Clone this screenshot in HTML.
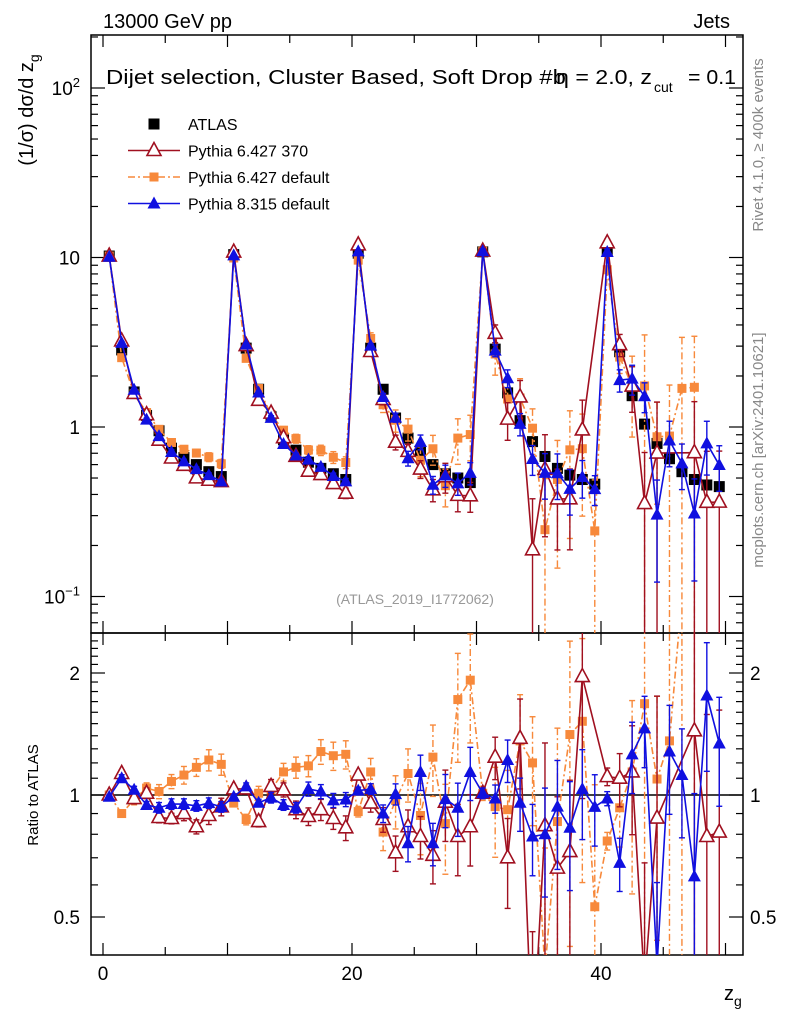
<!DOCTYPE html>
<html><head><meta charset="utf-8">
<style>
html,body{margin:0;padding:0;background:#fff;overflow:hidden;}
svg{display:block;font-family:"Liberation Sans",sans-serif;}
</style></head>
<body>
<svg id="chart" width="786" height="1024" viewBox="0 0 786 1024" xmlns="http://www.w3.org/2000/svg">
<defs>
<clipPath id="clipTop"><rect x="91" y="35" width="652" height="598"/></clipPath>
<clipPath id="clipBot"><rect x="91" y="633" width="652" height="322"/></clipPath>
</defs>
<text x="103" y="28" font-size="20">13000 GeV pp</text>
<text x="730" y="28" font-size="20" text-anchor="end">Jets</text>
<text transform="translate(33,110) rotate(-90)" font-size="20" text-anchor="middle">(1/σ) dσ/d z<tspan font-size="14" dy="6">g</tspan></text>
<text transform="translate(38,795) rotate(-90)" font-size="15" text-anchor="middle">Ratio to ATLAS</text>
<text transform="translate(763,145) rotate(-90)" font-size="15" fill="#888" text-anchor="middle">Rivet 4.1.0, ≥ 400k events</text>
<text transform="translate(763,450) rotate(-90)" font-size="15" fill="#888" text-anchor="middle">mcplots.cern.ch [arXiv:2401.10621]</text>
<text x="724" y="1000" font-size="20">z<tspan font-size="14" dy="6">g</tspan></text>
<g id="axes"></g>
<g font-size="20">
<text x="106" y="84" textLength="460" lengthAdjust="spacingAndGlyphs">Dijet selection, Cluster Based, Soft Drop #b</text>
<text x="556" y="84" textLength="96" lengthAdjust="spacingAndGlyphs">η = 2.0, z</text>
<text x="654" y="92" font-size="14">cut</text>
<text x="688" y="84" textLength="48" lengthAdjust="spacingAndGlyphs">= 0.1</text>
</g>
<text x="415" y="604" font-size="14" fill="#999" text-anchor="middle">(ATLAS_2019_I1772062)</text>
<g id="top" clip-path="url(#clipTop)"></g>
<g id="bot" clip-path="url(#clipBot)"></g>
<g id="legend"></g>
</svg>
<script>
const bins = [0.5,1.5,2.5,3.5,4.5,5.5,6.5,7.5,8.5,9.5,10.5,11.5,12.5,13.5,14.5,15.5,16.5,17.5,18.5,19.5,20.5,21.5,22.5,23.5,24.5,25.5,26.5,27.5,28.5,29.5,30.5,31.5,32.5,33.5,34.5,35.5,36.5,37.5,38.5,39.5,40.5,41.5,42.5,43.5,44.5,45.5,46.5,47.5,48.5,49.5];
const atlas = [10.2,2.85,1.61,1.17,0.95,0.75,0.66,0.60,0.545,0.51, 10.4,2.92,1.67,1.15,0.84,0.73,0.62,0.57,0.53,0.49, 10.6,2.92,1.67,1.13,0.86,0.715,0.60,0.53,0.50,0.47, 10.8,2.88,1.59,1.09,0.82,0.67,0.57,0.52,0.49,0.46, 11.0,2.78,1.53,1.04,0.80,0.65,0.545,0.49,0.455,0.445];
const ratioP6_370 = [1.0,1.13,0.98,1.01,0.88,0.875,0.90,0.835,0.89,0.935, 1.035,1.035,0.86,1.05,1.03,0.92,0.885,0.92,0.875,0.83, 1.12,0.955,0.87,0.72,0.835,0.79,0.71,0.96,0.79,0.835, 1.01,1.24,0.70,1.38,0.23,0.84,0.66,0.725,1.96,null, 1.11,1.10,1.14,0.34,0.877,null,null,1.44,0.79,0.81];
const ratioP6_def = [1.0,0.90,0.975,1.04,1.02,1.08,1.12,1.17,1.22,1.19, 0.955,0.87,1.01,1.03,1.14,1.17,1.18,1.28,1.25,1.26, 0.91,1.14,0.81,0.97,1.13,0.89,1.24,0.85,1.72,1.92, 1.01,0.936,0.92,1.36,1.20,0.37,0.86,1.41,1.52,0.53, 0.77,0.93,1.14,1.68,1.095,1.36,3.1,3.5,null,null];
const ratioP8 = [0.99,1.10,1.03,0.945,0.93,0.95,0.95,0.94,0.955,0.935, 0.99,1.05,0.957,0.985,0.945,0.93,1.035,1.02,0.97,0.975, 1.025,1.035,0.90,1.005,0.76,1.14,0.76,0.977,0.93,1.14, 1.01,0.98,1.22,0.957,0.79,0.80,0.936,0.83,1.035,0.935, 0.98,0.68,1.26,1.46,0.38,1.28,1.12,0.63,1.76,1.34];
const errP6_370 = [0.01,0.02,0.03,0.03,0.03,0.03,0.04,0.04,0.05,0.05, 0.01,0.02,0.03,0.04,0.04,0.05,0.05,0.06,0.06,0.07, 0.02,0.05,0.07,0.1,0.1,0.12,0.15,0.2,0.2,0.2, 0.03,0.12,0.25,0.25,1.0,0.6,0.5,0.5,0.5,0, 0.05,0.15,0.3,1.0,1.0,0,0,1.0,1.0,1.0];
const errP6_def = [0.01,0.02,0.03,0.03,0.04,0.04,0.05,0.05,0.06,0.06, 0.01,0.03,0.04,0.05,0.05,0.06,0.06,0.07,0.08,0.08, 0.03,0.08,0.1,0.15,0.15,0.2,0.2,0.25,0.3,0.3, 0.04,0.25,0.25,0.3,0.3,1.0,0.7,0.7,0.6,1.0, 0.05,0.2,0.5,1.0,0.6,1.0,1.0,1.0,0,0];
const errP8 = [0.01,0.02,0.02,0.02,0.03,0.03,0.03,0.03,0.03,0.03, 0.01,0.02,0.02,0.03,0.03,0.03,0.04,0.04,0.04,0.04, 0.02,0.03,0.05,0.06,0.1,0.1,0.12,0.15,0.15,0.15, 0.03,0.08,0.12,0.15,0.2,0.3,0.3,0.3,0.25,0.2, 0.04,0.15,0.2,0.2,0.6,0.3,0.3,0.6,0.35,0.3];
const topTickLabels = ["10^2","10","1","10^-1"];
const topTickValues = [100,10,1,0.1];
const ratioTickValues = [2,1,0.5];
const ratioTickLabels = ["2","1","0.5"];
const xTickValues = [0,20,40];
const xTickLabels = ["0","20","40"];

const NS="http://www.w3.org/2000/svg";
const X0=91,X1=743,YT=35,YM=633,YB=955;
function xpx(v){return 103+12.45*v;}
function ty(v){return v<=0?2000:Math.min(2000,Math.max(-1000,427-169.5*Math.log10(v)));}
function ry(r){return r<=0?2000:Math.min(2000,Math.max(-1000,795-122*Math.log2(r)));}
function mk(tag,attrs,parent){const e=document.createElementNS(NS,tag);for(const k in attrs)e.setAttribute(k,attrs[k]);parent.appendChild(e);return e;}
const axes=document.getElementById('axes'),top_=document.getElementById('top'),bot=document.getElementById('bot'),leg=document.getElementById('legend');

let f1=mk('rect',{x:X0,y:YT,width:X1-X0,height:YM-YT,fill:'none',stroke:'#000','stroke-width':1.5},axes);


let f2=mk('rect',{x:X0,y:YM,width:X1-X0,height:YB-YM,fill:'none',stroke:'#000','stroke-width':1.5},axes);


for(let v=0;v<=50;v+=1){
  const x=xpx(v); if(x<X0||x>X1)continue;
  const L=v%10==0?12:(v%5==0?8:0); if(!L)continue;
  for(const [y,d] of [[YT,1],[YM,-1],[YM,1],[YB,-1]]) mk('line',{x1:x,x2:x,y1:y,y2:y+d*L,stroke:'#000','stroke-width':1.2},axes);
}
xTickValues.forEach((v,i)=>{const t=mk('text',{x:xpx(v),y:980,'font-size':19,'text-anchor':'middle'},axes);t.textContent=xTickLabels[i];

});
for(let e=-2;e<=2;e++)for(let m=1;m<10;m++){
  const v=m*Math.pow(10,e),y=ty(v); if(y<YT||y>YM)continue;
  const L=m==1?14:7;
  mk('line',{x1:X0,x2:X0+L,y1:y,y2:y,stroke:'#000','stroke-width':1.2},axes);
  mk('line',{x1:X1,x2:X1-L,y1:y,y2:y,stroke:'#000','stroke-width':1.2},axes);
}
topTickValues.forEach((v,i)=>{const y=ty(v);const lab=topTickLabels[i];const t=mk('text',{x:80,y:y+7,'font-size':19,'text-anchor':'end'},axes);


if(lab.indexOf('^')>0){const p=lab.split('^');t.textContent=p[0];const s=mk('tspan',{'font-size':13,dy:-8},t);s.textContent=p[1].replace('-','−');}else t.textContent=lab;});
for(let r=0.4;r<=2.5;r+=0.1){const y=ry(r);if(y<YM||y>YB)continue;const maj=[0.5,1,2].some(q=>Math.abs(q-r)<1e-6);const L=maj?14:7;
mk('line',{x1:X0,x2:X0+L,y1:y,y2:y,stroke:'#000','stroke-width':1.2},axes);mk('line',{x1:X1,x2:X1-L,y1:y,y2:y,stroke:'#000','stroke-width':1.2},axes);}
ratioTickValues.forEach((v,i)=>{const y=ry(v);
const t=mk('text',{x:80,y:y+7,'font-size':19,'text-anchor':'end'},axes);t.textContent=ratioTickLabels[i];


const t2=mk('text',{x:750,y:y+7,'font-size':19},axes);t2.textContent=ratioTickLabels[i];

});
let ref=mk('line',{x1:X0,x2:X1,y1:ry(1),y2:ry(1),stroke:'#000','stroke-width':1.5},bot);



function marker(g,type,x,y,col){
  if(type=='sq') return mk('rect',{x:x-5.5,y:y-5.5,width:11,height:11,fill:col},g);
  if(type=='osq') return mk('rect',{x:x-4.5,y:y-4.5,width:9,height:9,fill:col},g);
  if(type=='otri') return mk('polygon',{points:`${x},${y-8} ${x-7},${y+5} ${x+7},${y+5}`,fill:'#fff',stroke:col,'stroke-width':1.6},g);
  return mk('polygon',{points:`${x},${y-7} ${x-6.5},${y+5} ${x+6.5},${y+5}`,fill:col},g);
}
function series(name,ratio,err,col,type,dash){
  for(const panel of ['top','bot']){
    const g=mk('g',{},panel=='top'?top_:bot);
    
    
    const fy=(i)=>panel=='top'?ty(atlas[i]*ratio[i]):ry(ratio[i]);
    const fe=(i,s)=>panel=='top'?ty(atlas[i]*ratio[i]*(1+s*err[i])):ry(ratio[i]*(1+s*err[i]));
    let pts=[];
    bins.forEach((b,i)=>{if(ratio[i]==null)return;pts.push(xpx(b)+','+fy(i));});
    const pl=mk('polyline',{points:pts.join(' '),fill:'none',stroke:col,'stroke-width':1.6,'stroke-dasharray':dash||'none'},g);
    
    
    bins.forEach((b,i)=>{if(ratio[i]==null)return;const x=xpx(b);
      if(err[i]>0){const y1=fe(i,1),y2=fe(i,-1);
        mk('line',{x1:x,x2:x,y1:y1,y2:y2,stroke:col,'stroke-width':1.4,'stroke-dasharray':dash||'none'},g);
        mk('line',{x1:x-3,x2:x+3,y1:y1,y2:y1,stroke:col,'stroke-width':1.4},g);
        mk('line',{x1:x-3,x2:x+3,y1:y2,y2:y2,stroke:col,'stroke-width':1.4},g);}
      const m=marker(g,type,x,fy(i),col);
      
      
    });
  }
}
const ag=mk('g',{},top_);


bins.forEach((b,i)=>{const m=marker(ag,'sq',xpx(b),ty(atlas[i]),'#000');

});
series('pythia6-default',ratioP6_def,errP6_def,'#f7893b','osq','7,3,2,3');
series('pythia6-370',ratioP6_370,errP6_370,'#a01020','otri');
series('pythia8-default',ratioP8,errP8,'#1010e0','tri');

const legItems=[['ATLAS','#000','sq',null],['Pythia 6.427 370','#a01020','otri',''],['Pythia 6.427 default','#f7893b','osq','7,3,2,3'],['Pythia 8.315 default','#1010e0','tri','']];
legItems.forEach((it,k)=>{const y=124+26.5*k;const g=mk('g',{},leg);


if(it[3]!==null)mk('line',{x1:128,x2:180,y1:y,y2:y,stroke:it[1],'stroke-width':1.6,'stroke-dasharray':it[3]||'none'},g);
marker(g,it[2],154,y,it[1]);
const t=mk('text',{x:188,y:y+6,'font-size':16},g);t.textContent=it[0];});
</script>
</body></html>
